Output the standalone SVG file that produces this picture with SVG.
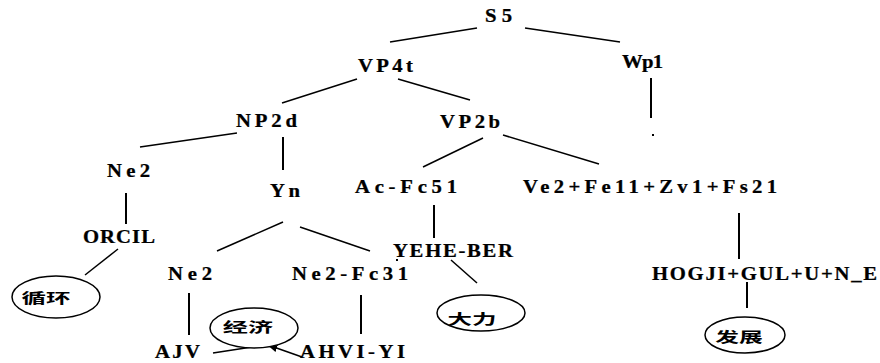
<svg xmlns="http://www.w3.org/2000/svg" width="880" height="363" viewBox="0 0 880 363">
  <style>
    .lbl { font-family: "Liberation Serif", "Times New Roman", serif; font-weight: bold; font-size: 18px; fill: #000; stroke: #000; stroke-width: 0.25; }
    .cjk { font-family: "Noto Sans CJK SC", "Noto Sans", sans-serif; font-size: 14px; font-weight: bold; fill: #000; }
    .oval { fill: #fff; stroke: #000; stroke-width: 1.5; }
    .edge { stroke: #000; stroke-width: 1.5; fill: none; }
    .stem { stroke: #000; stroke-width: 2; fill: none; }
  </style>
  <defs>
    <marker id="arrow" viewBox="0 0 10 10" refX="9" refY="5" markerWidth="7" markerHeight="7" orient="auto">
      <path d="M0,1 L10,5 L0,9 z" fill="#000"/>
    </marker>
  </defs>
  <rect width="880" height="363" fill="#fff"/>

  <!-- connectors -->
  <g id="edges">
    <line class="edge" x1="477" y1="28" x2="390" y2="42"/>
    <line class="edge" x1="525" y1="28" x2="620" y2="42"/>
    <line class="edge" x1="357" y1="79" x2="282" y2="103"/>
    <line class="edge" x1="398" y1="79" x2="470" y2="100"/>
    <line class="stem" x1="651" y1="78" x2="651" y2="118"/>
    <line class="edge" x1="237" y1="133" x2="140" y2="147"/>
    <line class="stem" x1="283" y1="137" x2="283" y2="170"/>
    <line class="edge" x1="483" y1="138" x2="423" y2="167"/>
    <line class="edge" x1="503" y1="135" x2="599" y2="164"/>
    <line class="stem" x1="126" y1="193" x2="126" y2="224"/>
    <line class="edge" x1="118" y1="249" x2="85" y2="275"/>
    <line class="edge" x1="283" y1="222" x2="217" y2="251"/>
    <line class="edge" x1="300" y1="227" x2="370" y2="251"/>
    <line class="stem" x1="434" y1="205" x2="434" y2="238"/>
    <line class="edge" x1="451" y1="260" x2="477" y2="283"/>
    <line class="stem" x1="739" y1="213" x2="739" y2="259"/>
    <line class="stem" x1="747" y1="282" x2="747" y2="308"/>
    <line class="stem" x1="189" y1="293" x2="189" y2="335"/>
    <line class="stem" x1="361" y1="295" x2="361" y2="334"/>
    <line class="edge" x1="213" y1="353" x2="252" y2="347"/>
    <line class="edge" x1="302" y1="357" x2="268" y2="345" marker-end="url(#arrow)"/>
  </g>

  <!-- tree nodes: labels are widened 1.15x and spread to their slot width -->
  <g id="n-s5" transform="translate(485 22) scale(1.15 1)"><text class="lbl" textLength="23.5" lengthAdjust="spacing">S5</text></g>
  <g id="n-vp4t" transform="translate(358 72) scale(1.15 1)"><text class="lbl" textLength="47.8" lengthAdjust="spacing">VP4t</text></g>
  <g id="n-wp1" transform="translate(622 68) scale(1.15 1)"><text class="lbl" textLength="35.7" lengthAdjust="spacing">Wp1</text></g>
  <g id="n-empty"><rect x="652" y="134" width="2" height="2" fill="#000"/></g>
  <g id="n-np2d" transform="translate(236 127) scale(1.15 1)"><text class="lbl" textLength="53" lengthAdjust="spacing">NP2d</text></g>
  <g id="n-vp2b" transform="translate(440 128) scale(1.15 1)"><text class="lbl" textLength="52.2" lengthAdjust="spacing">VP2b</text></g>
  <g id="n-ne2-a" transform="translate(107 177) scale(1.15 1)"><text class="lbl" textLength="37.4" lengthAdjust="spacing">Ne2</text></g>
  <g id="n-yn" transform="translate(270 197) scale(1.15 1)"><text class="lbl" textLength="26.1" lengthAdjust="spacing">Yn</text></g>
  <g id="n-acfc51" transform="translate(355 193) scale(1.15 1)"><text class="lbl" textLength="88.7" lengthAdjust="spacing">Ac-Fc51</text></g>
  <g id="n-ve2" transform="translate(523 193) scale(1.15 1)"><text class="lbl" textLength="220.9" lengthAdjust="spacing">Ve2+Fe11+Zv1+Fs21</text></g>
  <g id="n-orcil" transform="translate(83 243) scale(1.15 1)"><text class="lbl" textLength="62.6" lengthAdjust="spacing">ORCIL</text></g>
  <g id="n-yehe">
    <g transform="translate(393 257) scale(1.15 1)"><text class="lbl" textLength="104.3" lengthAdjust="spacing">YEHE-BER</text></g>
    <rect x="396" y="259" width="2" height="2" fill="#000"/>
  </g>
  <g id="n-ne2-b" transform="translate(168 280) scale(1.15 1)"><text class="lbl" textLength="38.3" lengthAdjust="spacing">Ne2</text></g>
  <g id="n-ne2fc31" transform="translate(292 280) scale(1.15 1)"><text class="lbl" textLength="100.9" lengthAdjust="spacing">Ne2-Fc31</text></g>
  <g id="n-hogji" transform="translate(652 280) scale(1.15 1)"><text class="lbl" textLength="195.7" lengthAdjust="spacing">HOGJI+GUL+U+N_E</text></g>
  <g id="n-ajv" transform="translate(155 358) scale(1.15 1)"><text class="lbl" textLength="39.1" lengthAdjust="spacing">AJV</text></g>
  <g id="n-ahvi" transform="translate(300 358) scale(1.15 1)"><text class="lbl" textLength="91.3" lengthAdjust="spacing">AHVI-YI</text></g>

  <!-- gloss ovals -->
  <g id="g-xunhuan">
    <ellipse class="oval" cx="56" cy="297" rx="44" ry="21"/>
    <text class="cjk" x="46" y="303" text-anchor="middle" transform="translate(46 0) scale(1.75 1) translate(-46 0)">循环</text>
  </g>
  <g id="g-jingji">
    <ellipse class="oval" cx="254" cy="328" rx="44" ry="20"/>
    <text class="cjk" x="248" y="332" text-anchor="middle" transform="translate(248 0) scale(1.8 1) translate(-248 0)">经济</text>
  </g>
  <g id="g-dali">
    <ellipse class="oval" cx="481" cy="313" rx="44" ry="18"/>
    <text class="cjk" x="472" y="324" text-anchor="middle" transform="translate(472 0) scale(1.75 1) translate(-472 0)">大力</text>
  </g>
  <g id="g-fazhan">
    <ellipse class="oval" cx="745" cy="335" rx="40" ry="18"/>
    <text class="cjk" x="739" y="342" text-anchor="middle" transform="translate(739 0) scale(1.7 1) translate(-739 0)">发展</text>
  </g>
</svg>
